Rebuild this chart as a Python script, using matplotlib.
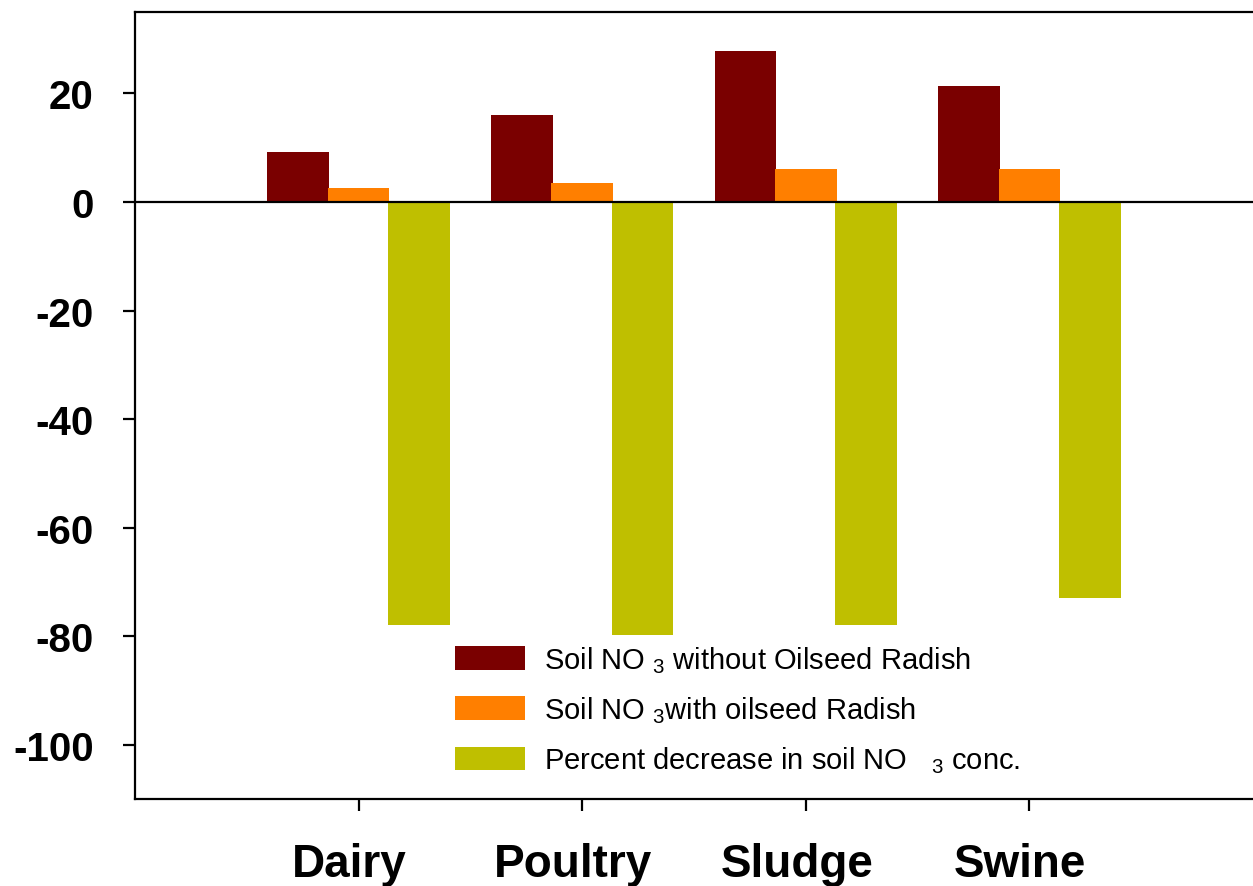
import matplotlib
matplotlib.use("Agg")
import matplotlib.pyplot as plt
import matplotlib.transforms as mtransforms
import numpy as np
from matplotlib.patches import Patch

plt.rcParams['font.family'] = ['Liberation Sans', 'DejaVu Sans']
plt.rcParams['mathtext.default'] = 'regular'
plt.rcParams['axes.unicode_minus'] = False

# data
categories = ['Dairy', 'Poultry', 'Sludge', 'Swine']
no3_without = [9.2, 16.0, 27.8, 21.3]
no3_with = [2.6, 3.5, 6.1, 6.1]
pct_decrease = [-78.0, -79.7, -78.0, -72.9]

series_labels = ['Soil NO $_3$ without Oilseed Radish',
                 'Soil NO $_3$with oilseed Radish',
                 'Percent decrease in soil NO   $_3$ conc.']
colors = ['#7A0000', '#FF7F00', '#BFBF00']

fig = plt.figure(figsize=(12.53, 8.87), dpi=100)
ax = fig.add_axes([0.1077, 0.098, 0.8923, 0.8873])

x = np.arange(len(categories))
width = 0.275
offsets = [-0.27, 0.0, 0.27]
for vals, off, c in zip([no3_without, no3_with, pct_decrease], offsets, colors):
    ax.bar(x + off, vals, width, color=c, linewidth=0, zorder=2)

ax.axhline(0, color='black', linewidth=1.6, zorder=3)

ax.set_xlim(-1, 4)
ax.set_ylim(-110, 35)
ax.set_yticks([20, 0, -20, -40, -60, -80, -100])
ax.set_xticks(x)
ax.set_xticklabels(categories)

for s in ['left', 'top', 'bottom']:
    ax.spines[s].set_linewidth(1.6)
ax.spines['right'].set_visible(False)

ax.tick_params(axis='y', direction='out', length=8.6, width=1.6, labelsize=29, pad=21)
ax.tick_params(axis='x', direction='out', length=8.6, width=1.6, labelsize=33, pad=22)
# category labels sit a little left of their ticks in the original
shift = mtransforms.ScaledTranslation(-9 / 100, 0, fig.dpi_scale_trans)
for lab in ax.get_xticklabels():
    lab.set_fontweight('bold')
    lab.set_transform(lab.get_transform() + shift)
for lab in ax.get_yticklabels():
    lab.set_fontweight('bold')

handles = [Patch(facecolor=c, edgecolor='none') for c in colors]
ax.legend(handles, series_labels, loc='upper left', bbox_to_anchor=(0.2755, 0.212),
          frameon=False, fontsize=21, handlelength=2.4, handleheight=0.86,
          handletextpad=0.68, labelspacing=0.67, borderaxespad=0)

fig.savefig('out.png', dpi=100)
